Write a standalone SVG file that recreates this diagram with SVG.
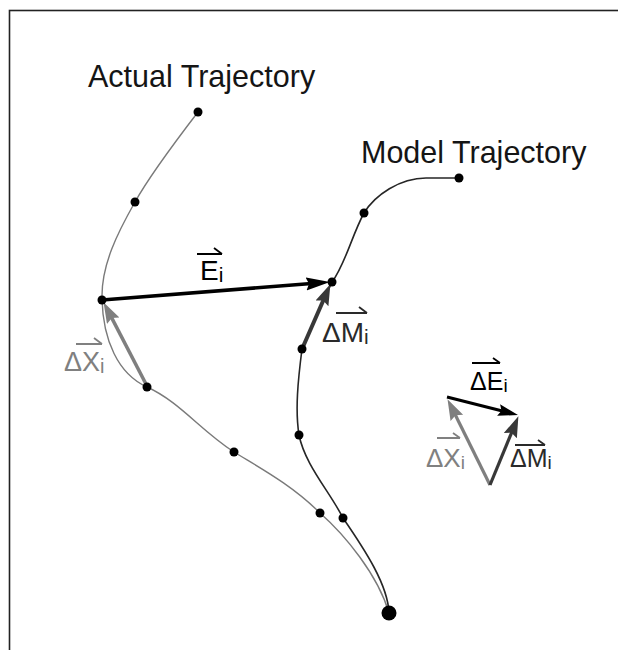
<svg xmlns="http://www.w3.org/2000/svg" width="618" height="650" viewBox="0 0 618 650">
<style>
.lbl{font-family:"Liberation Sans",Arial,sans-serif;}
.title{font-size:30.5px;fill:#151515;}
.dot{fill:#000;}
.actual{fill:none;stroke:#7a7a7a;stroke-width:1.4;}
.model{fill:none;stroke:#262626;stroke-width:1.6;}
.ov{fill:none;stroke-width:1.8;}
</style>
<defs>
<marker id="hBlack" markerUnits="userSpaceOnUse" markerWidth="24" markerHeight="14" refX="12" refY="6.5" orient="auto"><path d="M0,0 L24,6.5 L0,13 L3,6.5 z" fill="#000"/></marker>
<marker id="hGray" markerUnits="userSpaceOnUse" markerWidth="22" markerHeight="16" refX="10" refY="7" orient="auto"><path d="M0,0 L21,7 L0,14 L3,7 z" fill="#7f7f7f"/></marker>
<marker id="hDark" markerUnits="userSpaceOnUse" markerWidth="22" markerHeight="16" refX="10" refY="7" orient="auto"><path d="M0,0 L21,7 L0,14 L3,7 z" fill="#383838"/></marker>
<marker id="hBlackS" markerUnits="userSpaceOnUse" markerWidth="22" markerHeight="14" refX="10" refY="6" orient="auto"><path d="M0,0 L20,6 L0,12 L3,6 z" fill="#000"/></marker>
</defs>
<rect x="9.5" y="10.5" width="700" height="700" fill="none" stroke="#222" stroke-width="1.6"/>

<g id="trajectories">
<path id="actual-trajectory" class="actual" d="M198,112 C175,142 150,175 135,202 C118,232 101,265 102,299 C103,340 118,374 147,387 C180,402 200,430 234,452 C260,468 292,485 320,513 C345,535 378,575 389,613"/>
<path id="model-trajectory" class="model" d="M459,178 L426,178 C400,178 375,195 364,213 C352,235 345,265 332,282 C322,304 310,328 302,349 C298,380 295,410 299,435 C305,465 330,492 343,518 C365,550 388,585 389,613"/>
</g>

<g id="connectors">
<line id="E-arrow" x1="102" y1="300" x2="318" y2="283" stroke="#000" stroke-width="3.5" marker-end="url(#hBlack)"/>
<line id="dX-arrow" x1="147" y1="386" x2="108.6" y2="311.9" stroke="#7f7f7f" stroke-width="3.5" marker-end="url(#hGray)"/>
<line id="dM-arrow" x1="302" y1="349" x2="326" y2="294.2" stroke="#383838" stroke-width="4" marker-end="url(#hDark)"/>
<line id="dE-arrow-r" x1="447" y1="397" x2="508.3" y2="412.5" stroke="#000" stroke-width="3" marker-end="url(#hBlackS)"/>
<line id="dX-arrow-r" x1="490" y1="485" x2="452.4" y2="409" stroke="#7f7f7f" stroke-width="3.2" marker-end="url(#hGray)"/>
<line id="dM-arrow-r" x1="490" y1="485" x2="514.2" y2="426.3" stroke="#383838" stroke-width="3.2" marker-end="url(#hDark)"/>
</g>

<g id="points">
<circle class="dot" cx="198" cy="112" r="4.5"/>
<circle class="dot" cx="135" cy="202" r="4.5"/>
<circle class="dot" cx="102" cy="300" r="4.5"/>
<circle class="dot" cx="147" cy="387" r="4.5"/>
<circle class="dot" cx="234" cy="452" r="4.5"/>
<circle class="dot" cx="320" cy="513" r="4.5"/>
<circle class="dot" cx="459" cy="178" r="4.5"/>
<circle class="dot" cx="364" cy="213" r="4.5"/>
<circle class="dot" cx="332" cy="282" r="4.5"/>
<circle class="dot" cx="302" cy="349" r="4.5"/>
<circle class="dot" cx="299" cy="435" r="4.5"/>
<circle class="dot" cx="343" cy="518" r="4.5"/>
<circle class="dot" cx="389" cy="613" r="7.5"/>
</g>

<g id="label-actual"><text class="lbl title" x="88" y="87">Actual Trajectory</text></g>
<g id="label-model"><text class="lbl title" x="361" y="163">Model Trajectory</text></g>

<g id="label-E">
<text class="lbl" x="200" y="280" font-size="28" fill="#000">E<tspan font-size="21" dy="2">i</tspan></text>
<path class="ov" stroke="#000" d="M197,254 H222 M214,248 L222,254"/>
</g>
<g id="label-dM">
<text class="lbl" x="322" y="342" font-size="28" fill="#2a2a2a">ΔM<tspan font-size="21" dy="2">i</tspan></text>
<path class="ov" stroke="#2a2a2a" d="M336,313 H367 M359,307 L367,313"/>
</g>
<g id="label-dX">
<text class="lbl" x="64" y="371" font-size="27" fill="#808080">ΔX<tspan font-size="20" dy="2">i</tspan></text>
<path class="ov" stroke="#808080" d="M76,344 H102 M94,338 L102,344"/>
</g>
<g id="label-dE-r">
<text class="lbl" x="470" y="390" font-size="25" fill="#000">ΔE<tspan font-size="19" dy="2">i</tspan></text>
<path class="ov" stroke="#000" d="M472,363 H500 M493,358 L500,363"/>
</g>
<g id="label-dX-r">
<text class="lbl" x="426" y="467" font-size="26" fill="#808080">ΔX<tspan font-size="19" dy="2">i</tspan></text>
<path class="ov" stroke="#808080" d="M437,438 H460 M453,433 L460,438"/>
</g>
<g id="label-dM-r">
<text class="lbl" x="510" y="467" font-size="25" fill="#2a2a2a">ΔM<tspan font-size="19" dy="2">i</tspan></text>
<path class="ov" stroke="#2a2a2a" d="M515,445 H545 M538,440 L545,445"/>
</g>
</svg>
